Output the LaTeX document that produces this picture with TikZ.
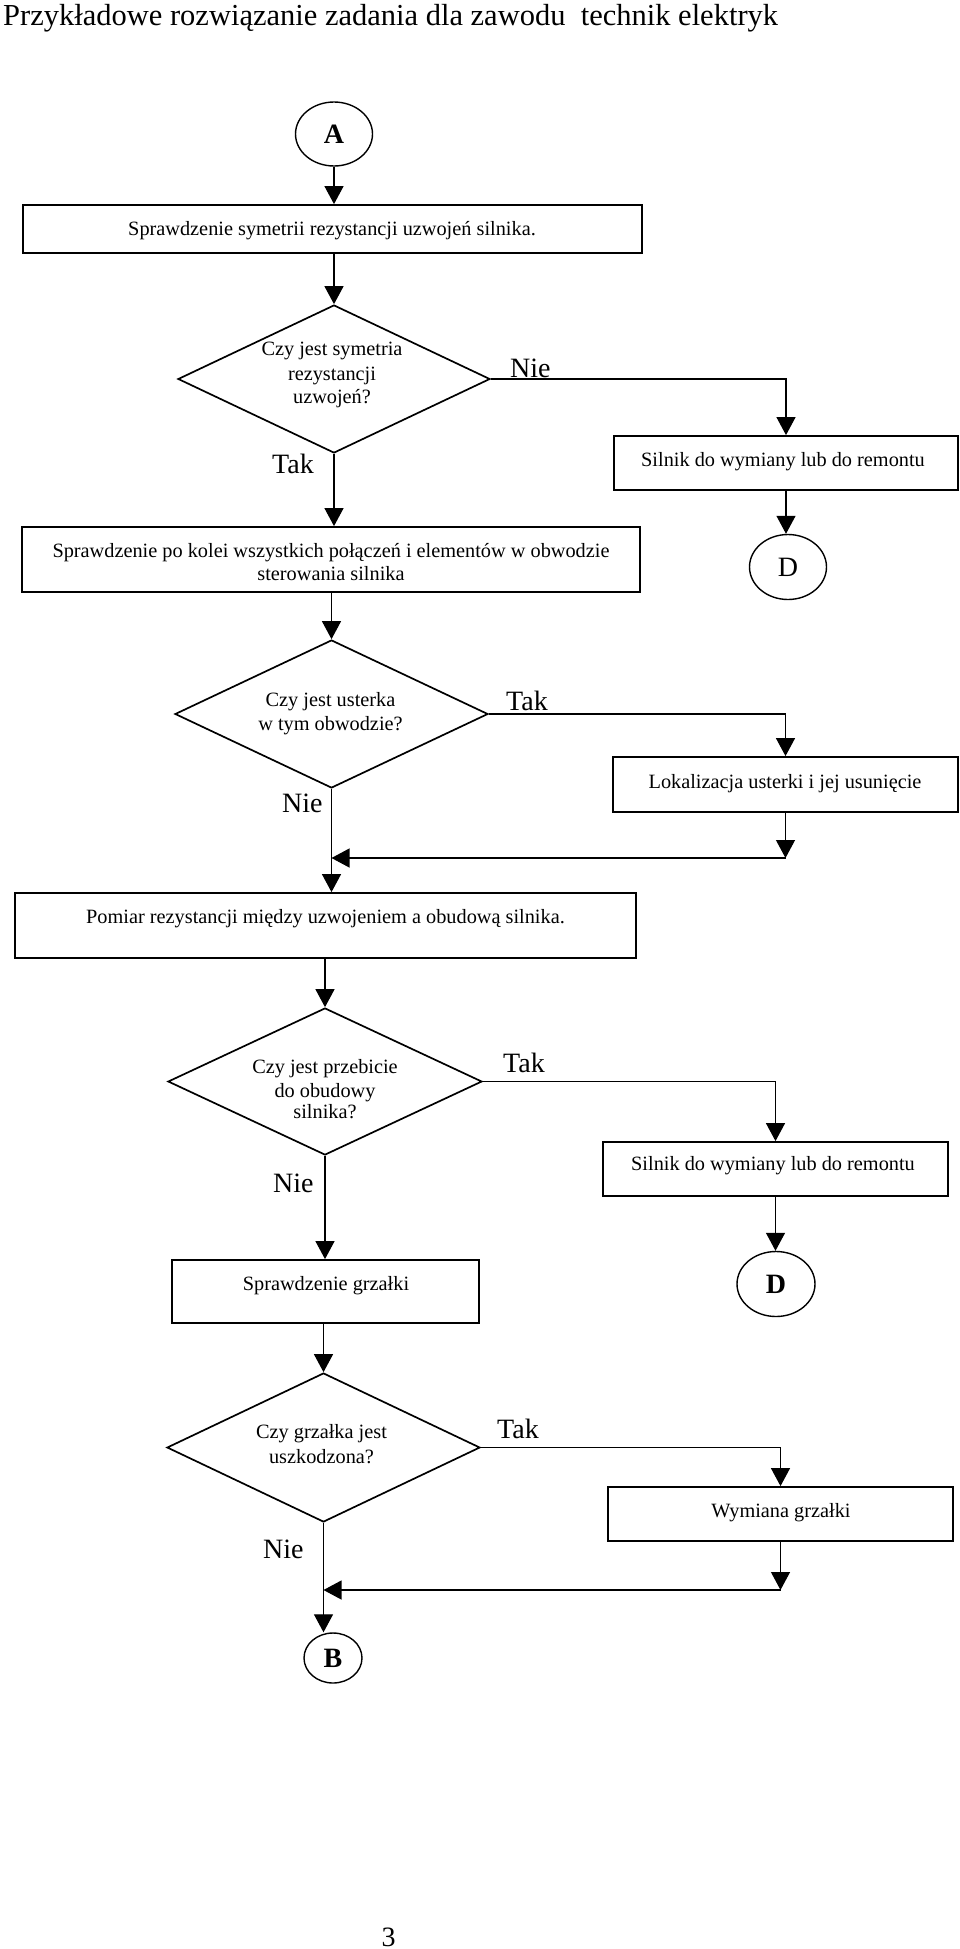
\documentclass[tikz,border=0pt]{standalone}
\usepackage{fontspec}
\setmainfont{Liberation Serif}
\usetikzlibrary{shapes.geometric,arrows.meta}
\tikzset{
  box/.style={draw, rectangle, line width=1.8pt, inner sep=0pt},
  dia/.style={draw, diamond, line width=1.7pt, inner sep=0pt},
  term/.style={draw, ellipse, line width=1.4pt, inner sep=0pt, font=\fontsize{28}{30}\selectfont},
  txt/.style={inner sep=0pt, anchor=base, font=\fontsize{20.3}{23.5}\selectfont},
  lbl/.style={inner sep=0pt, anchor=base west, font=\fontsize{28}{30}\selectfont},
  lin/.style={line width=1.2pt},
  con/.style={line width=1.2pt, -{Triangle[length=18pt,width=19pt]}}
}
\begin{document}
\begin{tikzpicture}[x=1pt,y=-1pt]
\useasboundingbox (0,0) rectangle (960,1949);
\fill[white] (0,0) rectangle (960,1949);
% title
\node[inner sep=0pt, anchor=base west, font=\fontsize{30.5}{32}\selectfont] (title) at (3,25) {Przykładowe rozwiązanie zadania dla zawodu~ technik elektryk};
% main column shapes
\node[term, minimum width=77pt, minimum height=64pt] (A) at (334,134) {\bfseries A};
\node[box, minimum width=619pt, minimum height=48pt] (b1) at (332.5,229) {};
\node[dia, minimum width=312pt, minimum height=148pt] (d1) at (334,379) {};
\node[box, minimum width=344pt, minimum height=54pt] (s1) at (786,463) {};
\node[term, minimum width=77pt, minimum height=65pt] (D1) at (788,567) {D};
\node[box, minimum width=618pt, minimum height=65pt] (b2) at (331,559.5) {};
\node[dia, minimum width=313pt, minimum height=148pt] (d2) at (331.5,714) {};
\node[box, minimum width=345pt, minimum height=55pt] (lok) at (785.5,784.5) {};
\node[box, minimum width=621pt, minimum height=65pt] (b3) at (325.5,925.5) {};
\node[dia, minimum width=314pt, minimum height=147pt] (d3) at (325,1081.5) {};
\node[box, minimum width=345pt, minimum height=54pt] (s2) at (775.5,1169) {};
\node[term, minimum width=78pt, minimum height=65pt] (D2) at (776,1284) {\bfseries D};
\node[box, minimum width=307pt, minimum height=63pt] (b4) at (325.5,1291.5) {};
\node[dia, minimum width=313pt, minimum height=149pt] (d4) at (323.5,1447.5) {};
\node[box, minimum width=345pt, minimum height=54pt] (w) at (780.5,1514) {};
\node[term, minimum width=58pt, minimum height=50pt] (B) at (333,1658) {\bfseries B};
% texts
\node[txt] (t1) at (332,235) {Sprawdzenie symetrii rezystancji uzwojeń silnika.};
\node[txt] (t2a) at (332,355) {Czy jest symetria};
\node[txt] (t2b) at (332,380) {rezystancji};
\node[txt] (t2c) at (332,403) {uzwojeń?};
\node[txt] (t3) at (783,466) {Silnik do wymiany lub do remontu};
\node[txt] (t4a) at (331,557) {Sprawdzenie po kolei wszystkich połączeń i elementów w obwodzie};
\node[txt] (t4b) at (331,580) {sterowania silnika};
\node[txt] (t5a) at (330.5,706) {Czy jest usterka};
\node[txt] (t5b) at (330.5,730) {w tym obwodzie?};
\node[txt] (t6) at (785,788) {Lokalizacja usterki i jej usunięcie};
\node[txt] (t7) at (325.5,923) {Pomiar rezystancji między uzwojeniem a obudową silnika.};
\node[txt] (t8a) at (325,1073) {Czy jest przebicie};
\node[txt] (t8b) at (325,1097) {do obudowy};
\node[txt] (t8c) at (325,1118) {silnika?};
\node[txt] (t9) at (773,1170) {Silnik do wymiany lub do remontu};
\node[txt] (t10) at (326,1290) {Sprawdzenie grzałki};
\node[txt] (t11a) at (321.5,1438) {Czy grzałka jest};
\node[txt] (t11b) at (321.5,1463) {uszkodzona?};
\node[txt] (t12) at (781,1517) {Wymiana grzałki};
% branch labels
\node[lbl] (n1) at (510,377) {Nie};
\node[lbl] (k1) at (272,473) {Tak};
\node[lbl] (k2) at (506,710) {Tak};
\node[lbl] (n2) at (282,812) {Nie};
\node[lbl] (k3) at (503,1072) {Tak};
\node[lbl] (n3) at (273,1192) {Nie};
\node[lbl] (k4) at (497,1438) {Tak};
\node[lbl] (n4) at (263,1558) {Nie};
% page number
\node[inner sep=0pt, anchor=base, font=\fontsize{28}{30}\selectfont] (page) at (388.5,1946) {3};
% junction points
\coordinate (j1) at (331.5,858);
\coordinate (j1r) at (lok.south |- j1);
\coordinate (j2) at (323.5,1590);
\coordinate (j2r) at (w.south |- j2);
% connectors
\draw[con] (A.south) -- (A.south |- b1.north);
\draw[con] (b1.south -| d1.north) -- (d1.north);
\draw[con] (d1.east) -| (s1.north);
\draw[con] (d1.south) -- (d1.south |- b2.north);
\draw[con] (s1.south) -- (s1.south |- D1.north);
\draw[con] (b2.south -| d2.north) -- (d2.north);
\draw[con] (d2.east) -| (lok.north);
\draw[con] (lok.south) -- (j1r);
\draw[con] (j1r) -- (j1);
\draw[con] (d2.south) -- (d2.south |- b3.north);
\draw[con] (b3.south -| d3.north) -- (d3.north);
\draw[con] (d3.east) -| (s2.north);
\draw[con] (s2.south) -- (s2.south |- D2.north);
\draw[con] (d3.south) -- (d3.south |- b4.north);
\draw[con] (b4.south -| d4.north) -- (d4.north);
\draw[con] (d4.east) -| (w.north);
\draw[con] (w.south) -- (j2r);
\draw[con] (j2r) -- (j2);
\draw[con] (d4.south) -- (d4.south |- B.north);
\end{tikzpicture}
\end{document}
